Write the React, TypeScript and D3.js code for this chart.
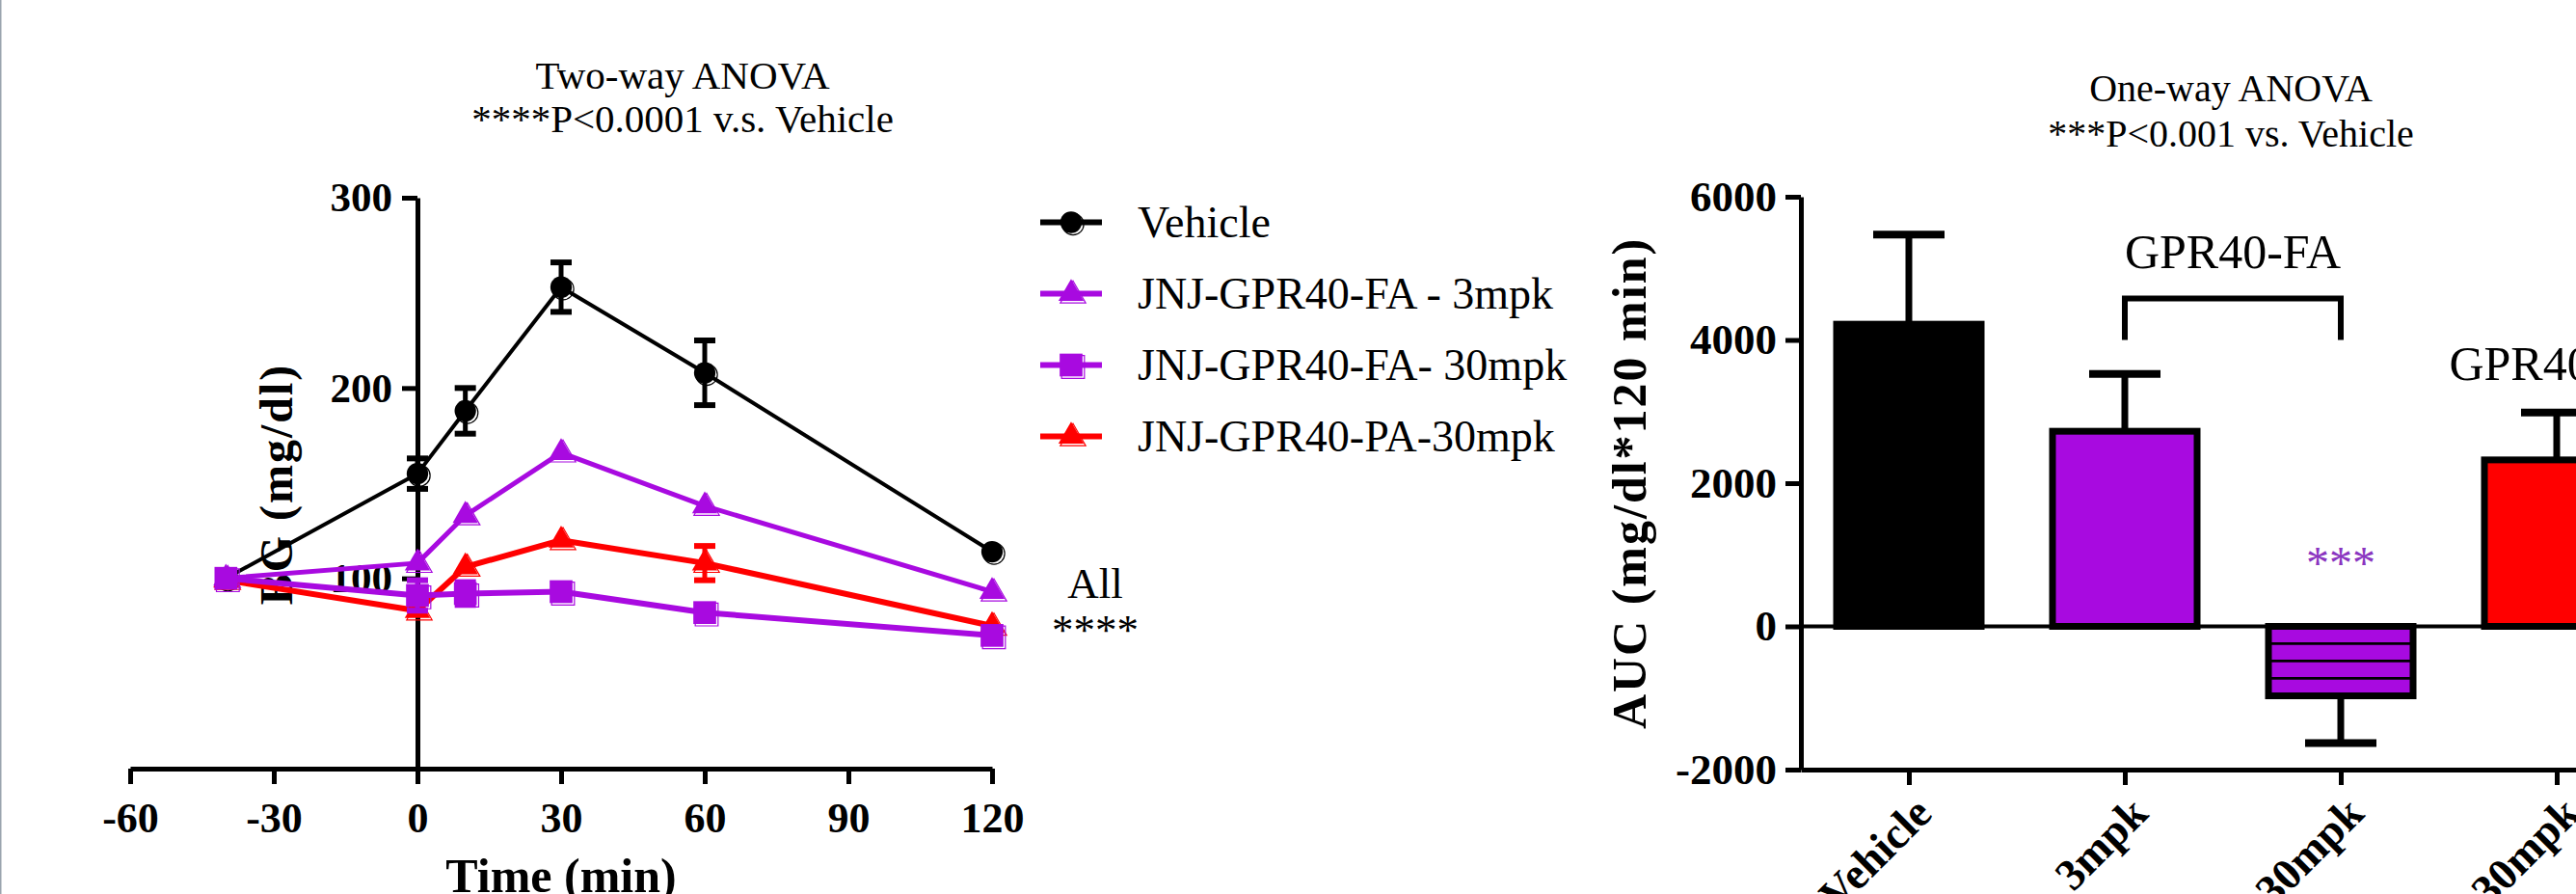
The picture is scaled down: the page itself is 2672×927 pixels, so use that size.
import { useEffect, useRef } from 'react';
import * as d3 from 'd3';

// ---- time course (BG, mg/dl)
const times = [-40, 0, 10, 30, 60, 120];
const vehicle = [100, 155, 188, 253, 208, 114];
const vehicleErr = [0, 8, 12, 13, 17, 0];
const fa3 = [100, 108, 133, 166, 138, 93];
const fa3Err = [0, 0, 0, 0, 0, 0];
const fa30 = [100, 91, 92, 93, 82, 70];
const fa30Err = [0, 8, 6, 0, 0, 0];
const pa30 = [99, 83, 106, 120, 108, 75];
const pa30Err = [0, 0, 0, 0, 9, 0];

const timeTicks = [-60, -30, 0, 30, 60, 90, 120];
const bgTicks = [100, 200, 300];

// ---- AUC
const aucLabels = ['Vehicle', '3mpk', '30mpk', '30mpk'];
const aucValues = [4220, 2725, -970, 2325];
const aucErr = [1250, 800, 660, 660];
const aucTicks = [-2000, 0, 2000, 4000, 6000];

const W = 2672;
const H = 927;
const FONT = '"Liberation Serif", "Times New Roman", Times, serif';
const PURPLE = '#a80ae0';
const RED = '#ff0000';

const App = () => {
    const ref = useRef<SVGSVGElement>(null);

    useEffect(() => {
        document.body.style.margin = '0';
        const svg = d3.select(ref.current);
        svg.selectAll('*').remove();
        svg.attr('font-family', FONT);

        svg.append('rect').attr('width', W).attr('height', H).attr('fill', '#fff');
        svg.append('line')
            .attr('x1', 0.75).attr('x2', 0.75).attr('y1', 0).attr('y2', H)
            .attr('stroke', '#9aa4ae').attr('stroke-width', 1.5);

        const styleAxis = (g: any, size: number) => {
            g.attr('font-family', FONT).attr('font-size', size).attr('font-weight', 'bold');
            g.select('.domain').attr('stroke-width', 5);
            g.selectAll('.tick line').attr('stroke-width', 5);
        };
        const plain = (d: any) => String(d);

        // ================= left panel =================
        const x = d3.scaleLinear().domain([-60, 120]).range([135, 1029]);
        const y = d3.scaleLinear().domain([0, 300]).range([797, 205]);

        svg.append('text').attr('x', 708).attr('y', 92).attr('text-anchor', 'middle')
            .attr('font-size', 41).text('Two-way ANOVA');
        svg.append('text').attr('x', 708).attr('y', 137).attr('text-anchor', 'middle')
            .attr('font-size', 41).text('****P<0.0001 v.s. Vehicle');

        svg.append('g')
            .attr('transform', `translate(0,${y(0)})`)
            .call(d3.axisBottom(x).tickValues(timeTicks).tickFormat(plain).tickSize(16).tickSizeOuter(0).tickPadding(19))
            .call(g => styleAxis(g, 44));

        svg.append('g')
            .attr('transform', `translate(${x(0)},0)`)
            .call(d3.axisLeft(y).tickValues(bgTicks).tickFormat(plain).tickSize(16).tickSizeOuter(0).tickPadding(10))
            .call(g => styleAxis(g, 43));

        svg.append('text')
            .attr('transform', `translate(303,502) rotate(-90)`)
            .attr('text-anchor', 'middle').attr('font-size', 48).attr('font-weight', 'bold')
            .attr('letter-spacing', 2)
            .text('BG (mg/dl)');

        svg.append('text').attr('x', x(30)).attr('y', 925).attr('text-anchor', 'middle')
            .attr('font-size', 50).attr('font-weight', 'bold').text('Time (min)');

        const series = [
            { name: 'Vehicle', values: vehicle, err: vehicleErr, color: '#000', symbol: d3.symbolCircle, size: 390, width: 4 },
            { name: 'JNJ-GPR40-PA-30mpk', values: pa30, err: pa30Err, color: RED, symbol: d3.symbolTriangle, size: 300, width: 6 },
            { name: 'JNJ-GPR40-FA - 3mpk', values: fa3, err: fa3Err, color: PURPLE, symbol: d3.symbolTriangle, size: 300, width: 5 },
            { name: 'JNJ-GPR40-FA- 30mpk', values: fa30, err: fa30Err, color: PURPLE, symbol: d3.symbolSquare, size: 560, width: 6 },
        ];

        const drawMarker = (g: any, s: any, cx: number, cy: number) => {
            const d = d3.symbol().type(s.symbol).size(s.size)();
            g.append('path').attr('d', d)
                .attr('transform', `translate(${cx + 2},${cy + 2})`)
                .attr('fill', 'none').attr('stroke', s.color).attr('stroke-width', 1.2);
            g.append('path').attr('d', d)
                .attr('transform', `translate(${cx},${cy})`)
                .attr('fill', s.color);
        };

        const line = d3.line<number>()
            .x((_, i) => x(times[i]))
            .y(v => y(v));

        series.forEach(s => {
            const g = svg.append('g');
            g.append('path').attr('d', line(s.values))
                .attr('fill', 'none').attr('stroke', s.color)
                .attr('stroke-width', s.width).attr('stroke-linejoin', 'round');
            s.values.forEach((v, i) => {
                const e = s.err[i];
                if (!e) return;
                const cx = x(times[i]);
                g.append('line').attr('x1', cx).attr('x2', cx)
                    .attr('y1', y(v - e)).attr('y2', y(v + e))
                    .attr('stroke', s.color).attr('stroke-width', 5);
                [v - e, v + e].forEach(ev => {
                    g.append('line').attr('x1', cx - 11).attr('x2', cx + 11)
                        .attr('y1', y(ev)).attr('y2', y(ev))
                        .attr('stroke', s.color).attr('stroke-width', 6);
                });
            });
            s.values.forEach((v, i) => drawMarker(g, s, x(times[i]), y(v)));
        });

        svg.append('text').attr('x', x(120) + 107).attr('y', 620).attr('text-anchor', 'middle')
            .attr('font-size', 45).text('All');
        svg.append('text').attr('x', x(120) + 107).attr('y', 668).attr('text-anchor', 'middle')
            .attr('font-size', 45).text('****');

        // legend
        const legendOrder = [series[0], series[2], series[3], series[1]];
        legendOrder.forEach((s, i) => {
            const ly = 230.5 + i * 74;
            const g = svg.append('g');
            g.append('line').attr('x1', 1079).attr('x2', 1143).attr('y1', ly).attr('y2', ly)
                .attr('stroke', s.color).attr('stroke-width', 6);
            drawMarker(g, s, 1111, ly);
            g.append('text').attr('x', 1180).attr('y', ly + 15)
                .attr('font-size', 46).text(s.name);
        });

        // ================= right panel =================
        const xb = d3.scalePoint<number>().domain(d3.range(aucValues.length)).range([1868, 2764]).padding(0.5);
        const yb = d3.scaleLinear().domain([-2000, 6000]).range([798, 204]);
        const barW = 150;

        svg.append('text').attr('x', 2314).attr('y', 105).attr('text-anchor', 'middle')
            .attr('font-size', 40).text('One-way ANOVA');
        svg.append('text').attr('x', 2314).attr('y', 152).attr('text-anchor', 'middle')
            .attr('font-size', 40).text('***P<0.001 vs. Vehicle');

        svg.append('g')
            .attr('transform', 'translate(1868,0)')
            .call(d3.axisLeft(yb).tickValues(aucTicks).tickFormat(plain).tickSize(16).tickSizeOuter(0).tickPadding(9))
            .call(g => styleAxis(g, 45));

        svg.append('g')
            .attr('transform', `translate(0,${yb(-2000)})`)
            .call(d3.axisBottom(xb).tickSize(16).tickSizeOuter(0).tickFormat(() => ''))
            .call(g => styleAxis(g, 40));

        svg.append('text')
            .attr('transform', `translate(1707,501) rotate(-90)`)
            .attr('text-anchor', 'middle').attr('font-size', 50).attr('font-weight', 'bold')
            .attr('letter-spacing', 2)
            .text('AUC (mg/dl*120 min)');

        const defs = svg.append('defs');
        const pat = defs.append('pattern').attr('id', 'hstripe')
            .attr('patternUnits', 'userSpaceOnUse')
            .attr('width', 40).attr('height', 18);
        pat.append('rect').attr('width', 40).attr('height', 18).attr('fill', PURPLE);
        pat.append('line').attr('x1', 0).attr('x2', 40).attr('y1', 1).attr('y2', 1)
            .attr('stroke', '#000').attr('stroke-width', 3.5);

        const fills = ['#000', PURPLE, 'url(#hstripe)', RED];

        aucValues.forEach((v, i) => {
            const cx = xb(i) as number;
            const top = Math.min(yb(v), yb(0));
            const h = Math.abs(yb(v) - yb(0));
            const ev = v + Math.sign(v) * aucErr[i];
            svg.append('line').attr('x1', cx).attr('x2', cx)
                .attr('y1', yb(v)).attr('y2', yb(ev))
                .attr('stroke', '#000').attr('stroke-width', 7);
            svg.append('line').attr('x1', cx - 37).attr('x2', cx + 37)
                .attr('y1', yb(ev)).attr('y2', yb(ev))
                .attr('stroke', '#000').attr('stroke-width', 8);
            svg.append('rect')
                .attr('x', cx - barW / 2).attr('y', top)
                .attr('width', barW).attr('height', h)
                .attr('fill', fills[i]).attr('stroke', '#000').attr('stroke-width', 7);
        });

        svg.append('line').attr('x1', 1868).attr('x2', 2764)
            .attr('y1', yb(0)).attr('y2', yb(0))
            .attr('stroke', '#000').attr('stroke-width', 4);

        aucLabels.forEach((t, i) => {
            svg.append('text')
                .attr('transform', `translate(${(xb(i) as number) + 26},846) rotate(-45)`)
                .attr('text-anchor', 'end').attr('font-size', 46).attr('font-weight', 'bold')
                .text(t);
        });

        // bracket + annotations
        const bx1 = xb(1) as number;
        const bx2 = xb(2) as number;
        svg.append('path')
            .attr('d', `M${bx1},${yb(4000)}V${yb(4580)}H${bx2}V${yb(4000)}`)
            .attr('fill', 'none').attr('stroke', '#000').attr('stroke-width', 6);
        svg.append('text').attr('x', (bx1 + bx2) / 2).attr('y', yb(5000))
            .attr('text-anchor', 'middle').attr('font-size', 50).text('GPR40-FA');
        svg.append('text').attr('x', xb(3) as number).attr('y', yb(3440))
            .attr('text-anchor', 'middle').attr('font-size', 50).text('GPR40-PA');
        svg.append('text').attr('x', bx2).attr('y', yb(660))
            .attr('text-anchor', 'middle').attr('font-size', 48).attr('fill', '#8a35c0').text('***');
    }, []);

    return <svg ref={ref} width={W} height={H} style={{ display: 'block', position: 'absolute', left: 0, top: 0 }} />;
};

export default App;
